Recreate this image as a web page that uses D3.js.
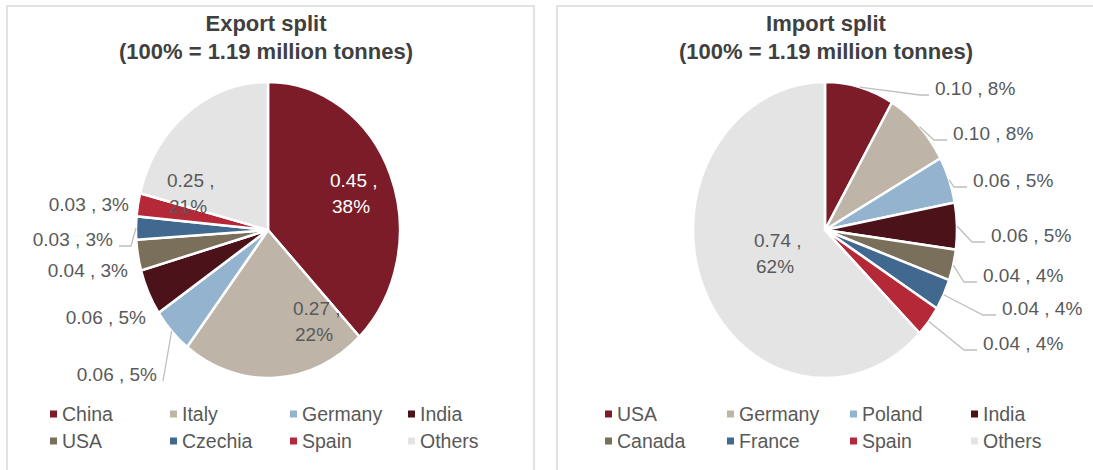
<!DOCTYPE html>
<html><head><meta charset="utf-8">
<script src="https://cdn.jsdelivr.net/npm/d3@7"></script>
<style>
body{margin:0;background:#fff;}
text{font-family:Arial,"Liberation Sans",sans-serif;}
</style>
</head><body>
<svg id="chart" width="1093" height="470"></svg>
<script>
// ---------- DATA ----------
const exportCategories = ["China","Italy","Germany","India","USA","Czechia","Spain","Others"];
const exportValues = [0.45,0.27,0.06,0.06,0.04,0.03,0.03,0.25];
const exportPercents = [38,22,5,5,3,3,3,21];

const importCategories = ["USA","Germany","Poland","India","Canada","France","Spain","Others"];
const importValues = [0.10,0.10,0.06,0.06,0.04,0.04,0.04,0.74];
const importPercents = [8,8,5,5,4,4,4,62];

const exportTitle = ["Export split","(100% = 1.19 million tonnes)"];
const importTitle = ["Import split","(100% = 1.19 million tonnes)"];

// ---------- STYLE / LAYOUT ----------
const sliceColors = ["#7B1C28","#BEB5A8","#93B3CE","#4B1219","#7A6F5A","#41698F","#B42838","#E4E4E4"];
const textColor = "#595959";

// label layout, relative to pie centre (type: in = inside two-line, L = left outside, R = right outside)
const exportLabelLayout = [
  {type:"in", dx:62, dy:-50, fill:"#ffffff"},
  {type:"in", dx:25, dy:78},
  {type:"L", dx:-111, dy:144, line:true, elbow:6},
  {type:"L", dx:-122, dy:87},
  {type:"L", dx:-140, dy:40},
  {type:"L", dx:-155, dy:9, line:true, elbow:18},
  {type:"L", dx:-139, dy:-26},
  {type:"in", dx:-101, dy:-50}
];
const importLabelLayout = [
  {type:"R", dx:110, dy:-142, line:true, elbow:15},
  {type:"R", dx:128, dy:-97, line:true, elbow:19},
  {type:"R", dx:148, dy:-50, line:true, elbow:19},
  {type:"R", dx:166, dy:5, line:true, elbow:19},
  {type:"R", dx:158, dy:45, line:true, elbow:19},
  {type:"R", dx:177, dy:78, line:true, elbow:19},
  {type:"R", dx:158, dy:113, line:true, elbow:19},
  {type:"in", dx:-71, dy:10}
];

const panels = [
  {x:7, w:527, cx:268, cy:230, title:exportTitle, titleX:266, cats:exportCategories, vals:exportValues, pcts:exportPercents, layout:exportLabelLayout, legendX:[50,170,290,408]},
  {x:557, w:545, cx:825, cy:230, title:importTitle, titleX:826, cats:importCategories, vals:importValues, pcts:importPercents, layout:importLabelLayout, legendX:[605,727,850,971]}
];

const rx = 132, ry = 148;
const svg = d3.select("#chart");

panels.forEach(p => {
  // panel frame
  svg.append("rect").attr("x",p.x).attr("y",6).attr("width",p.w).attr("height",480)
    .attr("fill","none").attr("stroke","#E2E2E2").attr("stroke-width",2);

  // title
  p.title.forEach((t,i) => {
    svg.append("text").attr("x",p.titleX).attr("y",31 + i*28)
      .attr("text-anchor","middle").attr("font-size",22).attr("font-weight","bold")
      .attr("fill","#404040").text(t);
  });

  const data = p.cats.map((c,i)=>({cat:c, val:p.vals[i], pct:p.pcts[i], color:sliceColors[i], lay:p.layout[i]}));
  const pie = d3.pie().sort(null).value(d=>d.val);
  const arcs = pie(data);
  const arc = d3.arc().innerRadius(0).outerRadius(rx);

  const g = svg.append("g").attr("transform",`translate(${p.cx},${p.cy}) scale(1,${ry/rx})`);
  g.selectAll("path").data(arcs).join("path")
    .attr("d",arc).attr("fill",d=>d.data.color)
    .attr("stroke","#fff").attr("stroke-width",2.5).attr("vector-effect","non-scaling-stroke");

  const lg = svg.append("g").attr("transform",`translate(${p.cx},${p.cy})`);
  const fmt = d3.format(".2f");
  arcs.forEach(a => {
    const d = a.data, L = d.lay;
    const mid = (a.startAngle + a.endAngle)/2;
    const ax = rx*Math.sin(mid), ay = -ry*Math.cos(mid);
    if (L.type === "in") {
      const t = lg.append("text").attr("font-size",19).attr("fill",L.fill||textColor);
      t.append("tspan").attr("x",L.dx).attr("y",L.dy+7).text(`${fmt(d.val)} ,`);
      t.append("tspan").attr("x",L.dx+2).attr("y",L.dy+7+26).text(`${d.pct}%`);
    } else {
      const anchor = L.type === "L" ? "end" : "start";
      lg.append("text").attr("x",L.dx).attr("y",L.dy+7).attr("font-size",19)
        .attr("text-anchor",anchor).attr("fill",textColor).text(`${fmt(d.val)} , ${d.pct}%`);
      if (L.line) {
        const sgn = L.type === "L" ? 1 : -1;
        const ly = L.dy + 7;
        const pts = [[ax,ay],[L.dx + sgn*L.elbow, ly],[L.dx + sgn*6, ly]];
        lg.append("path").attr("d",d3.line()(pts)).attr("fill","none")
          .attr("stroke","#BFBFBF").attr("stroke-width",1.3);
      }
    }
  });

  // legend
  const leg = svg.append("g");
  data.forEach((d,i) => {
    const col = i % 4, row = Math.floor(i/4);
    const lx = p.legendX[col], ly = 414 + row*27;
    leg.append("rect").attr("x",lx).attr("y",ly-3.5).attr("width",7).attr("height",7).attr("fill",d.color);
    leg.append("text").attr("x",lx+12).attr("y",ly+7).attr("font-size",19.5).attr("fill",textColor).text(d.cat);
  });
});
</script>
</body></html>
